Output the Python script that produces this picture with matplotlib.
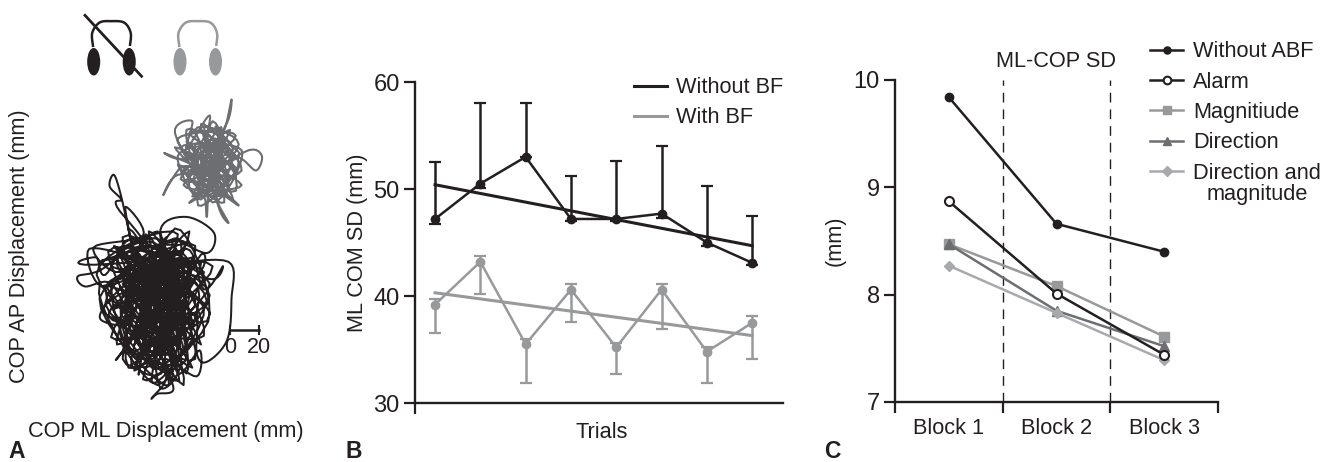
import numpy as np
import matplotlib.pyplot as plt
from matplotlib.patches import Ellipse

plt.rcParams['font.family'] = ['Liberation Sans', 'DejaVu Sans']

BLACK = '#231f20'
GREY = '#98999b'
DGREY = '#6d6e71'
LGREY = '#a7a9ac'

# panel A, stabilogram (mm)
cop_black = [(-62,20),(-45,50),(-70,40),(-40,15),(-75,10),(-50,45),(-30,30),(-65,-5),(-40,-15),(-60,35),
    (-85,30),(-55,5),(-35,40),(-68,55),(-48,25),(-30,5),(-58,-15),(-72,22),(-42,52),(-60,10),
    (-38,-5),(-78,45),(-52,60),(-34,22),(-64,-22),(-46,-28),(-50,20),(-80,15),(-44,35),(-25,45),
    (-60,58),(-90,41),(-105,37),(-100,30),(-82,32),(-70,5),(-89,7),(-84,20),(-62,45),(-97,56),
    (-88,30),(-55,50),(-78,85),(-75,90),(-83,99),(-80,107),(-75,92),(-68,60),(-72,85),(-60,65),
    (-94,57),(-76,40),(-50,68),(-40,30),(-48,69),(-30,78),(-11,67),(-16,53),(-40,62),(-28,35),
    (-56,15),(-36,-10),(-50,42),(-66,28),(-44,8),(-24,20),(-54,54),(-72,12),(-46,-8),(-32,48),
    (-64,34),(-42,24),(-58,-2),(-28,12),(-70,48),(-38,58),(-52,30),(-76,-2),(-48,-20),(-40,40),
    (-62,6),(-22,38),(-20,52),(-44,18),(-66,52),(-34,-2),(-54,-26),(-60,26),(-30,56),(-18,28),
    (-5,44),(-12,35),(-40,44),(-1,47),(1,21),(-2,-7),(-16,-22),(-23,-16),(-24,12),(-46,-14),
    (-50,12),(-78,-20),(-70,-8),(-56,22),(-63,-30),(-58,-12),(-44,-32),(-54,-47),(-50,-44),(-39,-41),
    (-45,-20),(-23,-32),(-21,-14),(-36,-30),(-42,4),(-40,-36),(-52,-6),(-48,-40),(-34,-24),(-38,16),
    (-30,-18),(-42,-24),(-68,-14),(-74,24),(-44,46),(-26,2),(-56,36),(-36,8),(-60,-8),(-50,52),
    (-32,36),(-70,18),(-46,2),(-28,26),(-58,44),(-40,-2),(-62,14),(-34,50),(-48,14),(-66,-10),
    (-36,30),(-54,-2),(-30,18),(-52,38),(-42,10),(-68,36),(-38,46),(-56,-8),(-44,28),(-60,50),
    (-88,48),(-30,60),(-84,10),(-22,5),(-80,58),(-20,-10),(-70,70),(-35,-35),(-86,28),(-18,40),
    (-66,-28),(-28,68),(-82,-5),(-16,20),(-74,64),(-42,-38),(-90,22),(-24,58),(-60,-34),(-14,12),
    (-78,50),(-26,-26),(-92,38),(-36,66),(-72,-16),(-14,32),(-84,54),(-32,-38),(-56,68),(-18,-4),
    (-88,14),(-20,46),(-68,-24),(-44,64),(-78,-10),(-12,44),(-100,45),(-92,50),(-86,38),(-64,62),
    (-26,-8),(-74,-20),(-38,70),(-16,6),(-90,30),(-50,-38),(-22,30),(-82,44),(-46,60),(-30,-30),
    (-76,56),(-14,24),(-70,-26),(-58,66),(-24,-20),(-86,18),(-34,62),(-54,-36),(-18,16),(-80,34),
    (-62,-20),(-26,50),(-72,2),(-40,-28),(-64,54),(-32,-14),(-76,30),(-44,-6),(-28,44),(-68,16),
    (-52,-18),(-38,36),(-74,40),(-48,-2),(-32,26),(-66,44),(-42,-16),(-56,30),(-36,-20),(-60,42),
    (-44,16),(-26,34),(-64,8),(-50,-24),(-40,48),(-70,28),(-34,10),(-58,-6),(-46,44),(-30,-6),
    (-35,4),(-50,-12),(-46,34),(-74,32),(-52,22),(-40,54),(-28,42),(-48,6),(-64,18),(-42,-10),
    (-33,14),(-57,28),(-47,40),(-55,10),(-37,24),(-50,32),(-62,0),(-43,20),(-53,46),(-35,34),
    (-45,-4),(-59,18),(-49,26),(-39,8),(-55,40),(-47,12),(-41,36),(-57,6),(-51,18),(-62,20)]

cop_grey = [(-14,115),(-30,130),(-8,100),(-25,105),(-4,130),(-20,90),(-36,120),(-10,125),(-2,95),(-28,98),
    (-16,135),(-6,110),(-32,112),(-12,92),(0,118),(-24,128),(-18,100),(-38,136),(-26,144),(-30,125),
    (-14,148),(-18,120),(-2,143),(1,159),(-4,138),(-10,140),(0,128),(6,120),(-12,110),(13,124),
    (22,120),(18,110),(8,118),(-6,122),(4,105),(-16,108),(6,86),(-8,95),(-8,87),(-1,74),
    (-6,80),(-14,100),(-16,78),(-18,92),(-28,88),(-10,104),(-36,107),(-46,93),(-34,112),(-22,112),
    (-45,122),(-35,118),(-14,122),(-28,136),(-6,132),(-22,96),(-4,102),(-26,118),(-10,132),(-18,112),
    (2,112),(-20,126),(-12,98),(-30,108),(-8,116),(-16,128),(-2,122),(-24,110),(-6,92),(-14,106),
    (-36,132),(4,134),(-32,100),(8,100),(-38,126),(2,90),(-24,138),(6,128),(-26,92),(0,138),
    (-34,104),(8,110),(-20,142),(-4,88),(-36,114),(4,96),(-12,144),(-22,86),(6,116),(-30,138),
    (-12,88),(8,124),(-34,126),(-2,100),(-18,140),(2,124),(-28,104),(-6,140),(-16,94),(4,112),
    (-28,122),(-4,114),(-18,132),(-10,120),(-22,104),(-2,108),(-16,116),(-12,126),(-8,106),(-20,118),
    (-14,112),(-6,126),(-18,104),(-10,114),(0,104),(-12,118),(-4,108),(-16,124),(-8,112),(-20,110),
    (-6,118),(-14,104),(-2,116),(-10,108),(-18,116),(-8,122),(-14,115)]
scale_bar = [0, 20]

# panel B
trials = [1, 2, 3, 4, 5, 6, 7, 8]
without_bf = [47.2, 50.5, 53.0, 47.2, 47.2, 47.7, 45.0, 43.1]
without_up = [52.5, 58.0, 58.0, 51.2, 52.6, 54.0, 50.3, 47.5]
without_lo = [46.7, 50.1, 53.0, 47.0, 47.0, 47.3, 44.7, 42.9]
with_bf = [39.2, 43.2, 35.5, 40.6, 35.2, 40.6, 34.8, 37.5]
with_up = [39.7, 43.7, 36.0, 41.1, 35.6, 41.1, 35.2, 38.1]
with_lo = [36.5, 40.2, 31.9, 37.6, 32.7, 36.9, 31.9, 34.1]
trend_x = [1, 8]
trend_without = [50.4, 44.7]
trend_with = [40.3, 36.3]

# panel C
blocks = ['Block 1', 'Block 2', 'Block 3']
block_x = [0.5, 1.5, 2.5]
no_abf = [9.84, 8.66, 8.40]
alarm = [8.87, 8.01, 7.44]
magnitude = [8.47, 8.08, 7.61]
direction = [8.47, 7.85, 7.52]
dir_mag = [8.27, 7.83, 7.39]

W, H = 1336, 462
FS = 15.7


def px_axes(left, right, top, bottom):
    return fig.add_axes([left / W, 1 - bottom / H, (right - left) / W, (bottom - top) / H])


def smooth(points, n=8):
    # catmull-rom through the read points
    p = np.array(points, dtype=float)
    p = np.vstack([p[0], p, p[-1]])
    out = []
    t = np.linspace(0, 1, n, endpoint=False)[:, None]
    for i in range(1, len(p) - 2):
        a, b, c, d = p[i - 1], p[i], p[i + 1], p[i + 2]
        out.append(0.5 * (2 * b + (c - a) * t + (2 * a - 5 * b + 4 * c - d) * t ** 2
                          + (3 * b - a - 3 * c + d) * t ** 3))
    return np.vstack(out)


def headphones(ax, x0, col):
    # icon, in mm like the rest of panel A
    ax.add_patch(Ellipse((x0, 185), 9, 19, color=col, lw=0))
    ax.add_patch(Ellipse((x0 + 24.5, 185), 9, 19, color=col, lw=0))
    band = smooth([(x0 - 0.5, 196), (x0 - 1, 205), (x0 + 4, 212), (x0 + 12, 213), (x0 + 21, 212),
                   (x0 + 25.5, 205), (x0 + 25, 196)])
    ax.plot(band[:, 0], band[:, 1], color=col, lw=1.8)


fig = plt.figure(figsize=(W / 100, H / 100), dpi=100)

# A
ax = px_axes(0, 330, 0, 462)
ax.set_xlim(-230 / 1.45, 100 / 1.45)
ax.set_ylim(-132 / 1.45, 330 / 1.45)
ax.axis('off')
xy = smooth(cop_black)
ax.plot(xy[:, 0], xy[:, 1], color=BLACK, lw=1.45)
xy = smooth(cop_grey)
ax.plot(xy[:, 0], xy[:, 1], color=DGREY, lw=1.5)
headphones(ax, -94, BLACK)
headphones(ax, -34.5, GREY)
ax.plot([-100, -61], [217, 175], color=BLACK, lw=2)
ax.plot(scale_bar, [0, 0], color=BLACK, lw=1.8)
for v in scale_bar:
    ax.plot([v, v], [-3, 3], color=BLACK, lw=1.5)
    ax.text(v, -5, str(v), ha='center', va='top', fontsize=15.5, color=BLACK)
fig.text(20 / W, 1 - 246 / H, 'COP AP Displacement (mm)', rotation=90, ha='center', va='center',
         fontsize=FS, color=BLACK)
fig.text(166 / W, 1 - 431 / H, 'COP ML Displacement (mm)', ha='center', va='center', fontsize=FS, color=BLACK)
fig.text(8 / W, 1 - 458 / H, 'A', fontsize=16.5, fontweight='bold', color=BLACK)

# B
ax = px_axes(415, 783, 82, 403)
ax.set_xlim(0.558, 8.68)
ax.set_ylim(30, 60)
for y, up, lo, col in [(without_bf, without_up, without_lo, BLACK), (with_bf, with_up, with_lo, GREY)]:
    y = np.array(y)
    ax.errorbar(trials, y, yerr=[y - np.array(lo), np.array(up) - y], color=col, lw=1.8, marker='o', ms=6,
                capsize=4, capthick=1.6, elinewidth=1.8, clip_on=False)
ax.plot(trend_x, trend_without, color=BLACK, lw=2.2, label='Without BF')
ax.plot(trend_x, trend_with, color=GREY, lw=2.2, label='With BF')
ax.spines[['top', 'right']].set_visible(False)
ax.spines[['left', 'bottom']].set_linewidth(1.7)
ax.spines[['left', 'bottom']].set_color(BLACK)
ax.set_xticks([0.558])
ax.set_xticklabels([''])
ax.set_yticks([30, 40, 50, 60])
ax.tick_params(length=8, width=1.6, color=BLACK, labelsize=17, labelcolor=BLACK, pad=3)
ax.set_ylabel('ML COM SD (mm)', fontsize=FS, color=BLACK, labelpad=4)
ax.set_xlabel('Trials', fontsize=FS, color=BLACK, labelpad=3, x=0.508)
ax.legend(loc='upper right', bbox_to_anchor=(1.002, 1.015), frameon=False, fontsize=FS, handlelength=1.55,
          handletextpad=0.42, labelspacing=0.42, borderaxespad=0, borderpad=0, labelcolor=BLACK)
fig.text(345 / W, 1 - 458 / H, 'B', fontsize=16.5, fontweight='bold', color=BLACK)

# C
ax = px_axes(895, 1218, 80, 402)
ax.set_xlim(0, 3)
ax.set_ylim(7, 10)
for v in [1, 2]:
    ax.plot([v, v], [7, 10], color=BLACK, lw=1, dashes=(7, 5))
ax.plot(block_x, no_abf, color=BLACK, lw=1.8, marker='o', ms=6, label='Without ABF')
ax.plot(block_x, magnitude, color=GREY, lw=1.8, marker='s', ms=6.5, label='Magnitiude')
ax.plot(block_x, direction, color=DGREY, lw=1.8, marker='^', ms=6.5, label='Direction')
ax.plot(block_x, dir_mag, color=LGREY, lw=1.8, marker='D', ms=5.5, label='Direction and')
ax.plot(block_x, alarm, color=BLACK, lw=1.8, marker='o', ms=6.5, mfc='white', mew=1.5, label='Alarm')
ax.spines[['top', 'right']].set_visible(False)
ax.spines[['left', 'bottom']].set_linewidth(1.7)
ax.spines[['left', 'bottom']].set_color(BLACK)
ax.set_xticks([0, 1, 2, 3])
ax.set_xticklabels([])
for x, b in zip(block_x, blocks):
    ax.text(x, 6.75, b, ha='center', va='center', fontsize=FS, color=BLACK)
ax.set_yticks([7, 8, 9, 10])
ax.tick_params(length=8, width=1.6, color=BLACK, labelsize=17, labelcolor=BLACK, pad=3)
ax.set_ylabel('(mm)', fontsize=FS, color=BLACK, labelpad=6)
ax.text(1.5, 10.175, 'ML-COP SD', ha='center', va='center', fontsize=FS, color=BLACK)
h, l = ax.get_legend_handles_labels()
order = [0, 4, 1, 2, 3]
ax.legend([h[i] for i in order], [l[i] for i in order], loc='upper left', bbox_to_anchor=(0.79, 1.12),
          frameon=False, fontsize=FS, handlelength=1.5, handletextpad=0.46, labelspacing=0.43,
          borderaxespad=0, borderpad=0, labelcolor=BLACK, markerscale=0.85)
ax.text(1.121, 8.93, 'magnitude', ha='center', va='center', fontsize=FS, color=BLACK, clip_on=False,
        transform=ax.get_yaxis_transform())
fig.text(824 / W, 1 - 458 / H, 'C', fontsize=16.5, fontweight='bold', color=BLACK)

fig.savefig('out.png', dpi=100)
